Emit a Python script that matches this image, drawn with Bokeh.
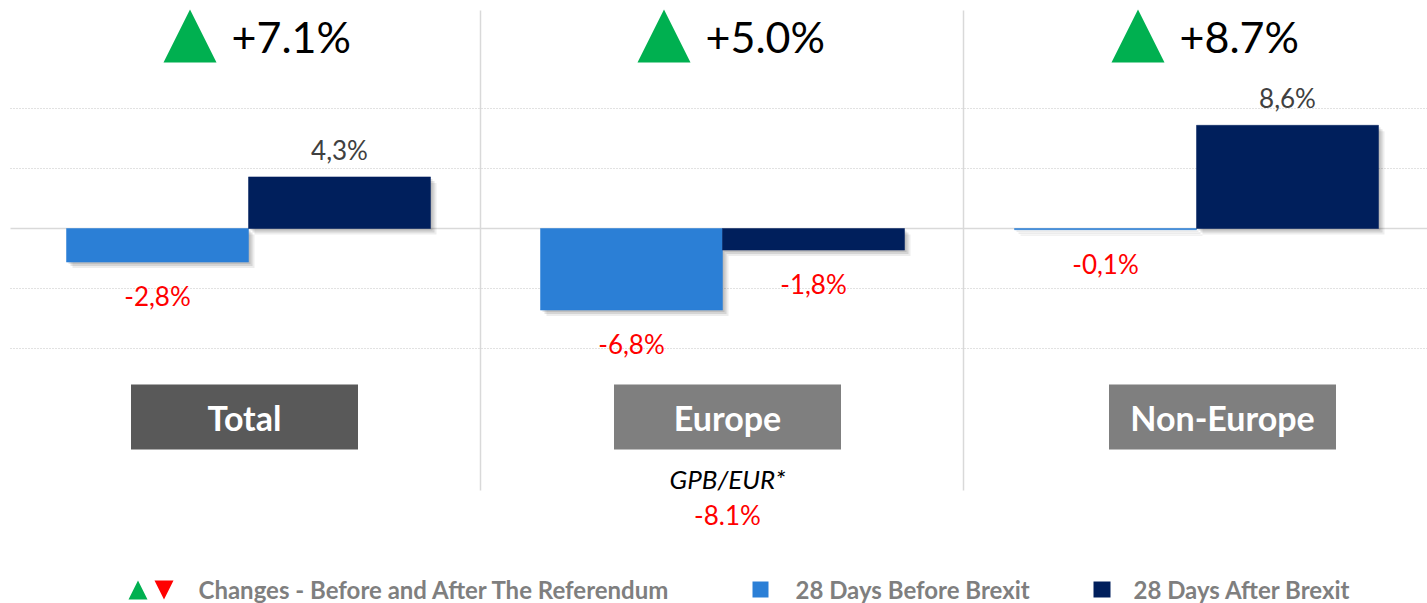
from bokeh.plotting import figure
from bokeh.models import ColumnDataSource, Range1d
from bokeh.core.properties import value
from bokeh.embed import file_html
from bokeh.resources import INLINE

# ---------------- data ----------------
categories = ["Total", "Europe", "Non-Europe"]
before_brexit = [-2.8, -6.8, -0.1]
after_brexit = [4.3, -1.8, 8.6]
change = [7.1, 5.0, 8.7]
change_labels = ["+7.1%", "+5.0%", "+8.7%"]
before_labels = ["-2,8%", "-6,8%", "-0,1%"]
after_labels = ["4,3%", "-1,8%", "8,6%"]
grid_values = [10, 5, -5, -10]
fx_notes = ["", "GPB/EUR*", ""]
fx_changes = ["", "-8.1%", ""]
legend_labels = ["Changes - Before and After The Referendum",
                 "28 Days Before Brexit", "28 Days After Brexit"]

# ---------------- layout / style ----------------
W, H = 1427, 603
PX_X = 474.0   # px per category step
PX_Y = 12.0    # px per percent
X0 = 248.0     # px of first category centre
Y0 = 228.0     # px of zero line
FONT = value("Lato")

BEFORE_C = "#2b7fd6"
AFTER_C = "#001f5c"
RED = "#ff0000"
GREEN = "#00b050"
box_colors = ["#595959", "#7f7f7f", "#7f7f7f"]
box_offsets_px = [-4, 5, 26]


def dx(px):
    return px / PX_X


def dy(px):
    return px / PX_Y


def X(px):
    return (px - X0) / PX_X


def Y(py):
    return (Y0 - py) / PX_Y


p = figure(width=W, height=H,
           x_range=Range1d(X(0), X(W)), y_range=Range1d(Y(H), Y(0)),
           x_axis_type=None, y_axis_type=None,
           toolbar_location=None, output_backend="svg",
           min_border=0, outline_line_color=None)
p.background_fill_color = "white"
p.border_fill_color = "white"

idx = list(range(len(categories)))

# grid lines
n = len(grid_values)
p.segment(x0=[X(10)] * n, y0=grid_values, x1=[X(W)] * n, y1=grid_values,
          line_color="#c4c4c4", line_dash="1 2", line_width=1)
p.segment(x0=[X(10)], y0=[0], x1=[X(W)], y1=[0],
          line_color="#d9d9d9", line_width=1.5)

# panel dividers
div_px = [480, 963]
p.segment(x0=[X(v) for v in div_px], y0=[Y(10)] * 2,
          x1=[X(v) for v in div_px], y1=[Y(490)] * 2,
          line_color="#d9d9d9", line_width=1.5)

# bars
bw = dx(182)
bars = []
for i in idx:
    bars.append((i - bw, i, before_brexit[i], BEFORE_C))
    bars.append((i, i + bw, after_brexit[i], AFTER_C))

# shadows
for off, alpha in [(2, 0.10), (4, 0.10), (6, 0.07)]:
    p.quad(left=[b[0] + dx(off) for b in bars],
           right=[b[1] + dx(off) for b in bars],
           top=[max(b[2], 0) - dy(off) for b in bars],
           bottom=[min(b[2], 0) - dy(off) for b in bars],
           fill_color="black", fill_alpha=alpha, line_color=None)

bar_src = ColumnDataSource(dict(
    left=[b[0] for b in bars], right=[b[1] for b in bars],
    top=[max(b[2], 0) for b in bars], bottom=[min(b[2], 0) for b in bars],
    color=[b[3] for b in bars]))
p.quad(left="left", right="right", top="top", bottom="bottom",
       fill_color="color", line_color="color", line_width=0.5, source=bar_src)

# value labels
lx, ly, lt, lc = [], [], [], []
for i in idx:
    for v, lab, cx in [(before_brexit[i], before_labels[i], i - bw / 2),
                       (after_brexit[i], after_labels[i], i + bw / 2)]:
        lx.append(cx)
        ly.append(v + dy(27) if v >= 0 else v - dy(34))
        lt.append(lab)
        lc.append("#404040" if v >= 0 else RED)
p.text(x=lx, y=ly, text=lt, text_color=lc, text_font=FONT,
       text_font_size="26px", text_align="center", text_baseline="middle")

# headline change markers
txs, tys, tcol = [], [], []
for i in idx:
    up = change[i] >= 0
    left, right, mid = i + dx(-85), i + dx(-32), i + dx(-58.5)
    if up:
        txs.append([left, right, mid])
        tys.append([Y(62), Y(62), Y(9)])
    else:
        txs.append([left, right, mid])
        tys.append([Y(9), Y(9), Y(62)])
    tcol.append(GREEN if up else RED)
p.patches(xs=txs, ys=tys, fill_color=tcol, line_color=None)
p.text(x=[i + dx(-17) for i in idx], y=[Y(36)] * len(idx), text=change_labels,
       text_color="black", text_font=FONT, text_font_size="43px",
       text_align="left", text_baseline="middle")

# category boxes
bx = [i + dx(o) for i, o in zip(idx, box_offsets_px)]
p.quad(left=[c - dx(113.5) for c in bx], right=[c + dx(113.5) for c in bx],
       top=[Y(384)] * len(bx), bottom=[Y(449)] * len(bx),
       fill_color=box_colors, line_color=None)
p.text(x=bx, y=[Y(417)] * len(bx), text=categories, text_color="white",
       text_font=FONT, text_font_style="bold", text_font_size="34px",
       text_align="center", text_baseline="middle")

# FX note
p.text(x=bx, y=[Y(478)] * len(bx), text=fx_notes, text_color="black",
       text_font=FONT, text_font_style="italic", text_font_size="26px",
       text_align="center", text_baseline="middle")
p.text(x=bx, y=[Y(514)] * len(bx), text=fx_changes, text_color=RED,
       text_font=FONT, text_font_size="26px",
       text_align="center", text_baseline="middle")

# legend
ly0 = Y(589)
p.patches(xs=[[X(128), X(147), X(137.5)], [X(154), X(173), X(163.5)]],
          ys=[[Y(599), Y(599), Y(580)], [Y(580), Y(580), Y(599)]],
          fill_color=[GREEN, RED], line_color=None)
p.quad(left=[X(752), X(1093)], right=[X(768), X(1110)],
       top=[Y(581), Y(581)], bottom=[Y(597), Y(597)],
       fill_color=[BEFORE_C, AFTER_C], line_color=None)
p.text(x=[X(198), X(795), X(1133)], y=[ly0] * 3, text=legend_labels,
       text_color="#7f7f7f", text_font=FONT, text_font_style="bold",
       text_font_size="24px", text_align="left", text_baseline="middle")

open("out.html", "w").write(file_html(p, INLINE))
